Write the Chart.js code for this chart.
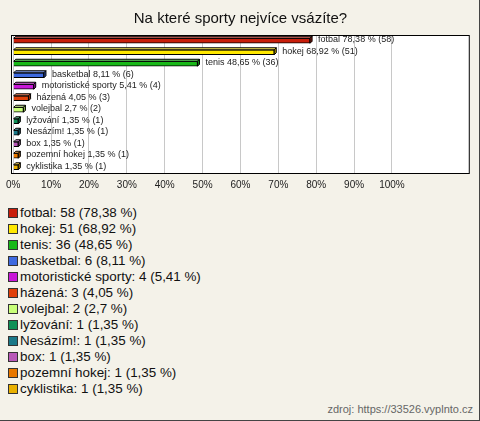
<!DOCTYPE html>
<html>
<head>
<meta charset="utf-8">
<script src="https://cdn.jsdelivr.net/npm/chart.js@4"></script>
<style>
    body { margin: 0; background: #fff; }
    #wrap { position: relative; width: 479px; height: 420px; background: #f4f2e9; border-right: 1px solid #444; border-bottom: 1px solid #444; font-family: "Liberation Sans", Arial, sans-serif; }
    #chartBox { position: absolute; left: 0; top: 0; width: 479px; height: 200px; }
    #legend { position: absolute; left: 8px; top: 205px; margin: 0; padding: 0; list-style: none; }
    #legend li { height: 16px; line-height: 16px; font-size: 13.4px; color: #111; white-space: nowrap; }
    #legend span { display: inline-block; width: 8px; height: 8px; border: 1px solid #333; margin-right: 2px; vertical-align: -1px; }
    #source { position: absolute; right: 6px; top: 403px; font-size: 11px; color: #666; }
</style>
</head>
<body>
<div id="wrap">
    <div id="chartBox"><canvas id="chart_sporty"></canvas></div>
    <ul id="legend"></ul>
    <div id="source">zdroj: https://33526.vyplnto.cz</div>
</div>
<script>
const title = 'Na které sporty nejvíce vsázíte?';
const sports = ['fotbal', 'hokej', 'tenis', 'basketbal', 'motoristické sporty', 'házená', 'volejbal', 'lyžování', 'Nesázím!', 'box', 'pozemní hokej', 'cyklistika'];
const counts = [58, 51, 36, 6, 4, 3, 2, 1, 1, 1, 1, 1];
const percents = [78.38, 68.92, 48.65, 8.11, 5.41, 4.05, 2.7, 1.35, 1.35, 1.35, 1.35, 1.35];
const colors = ['#c81e0a', '#ffe800', '#18b818', '#3e6ae0', '#c818d8', '#e0400a', '#c8ff78', '#0e9058', '#1a7888', '#b858b8', '#e87800', '#e8b000'];
const tickValues = [0, 10, 20, 30, 40, 50, 60, 70, 80, 90, 100];

const fmt = (v) => String(v).replace('.', ',');

// light / dark shade for the 3d faces
const shade = (hex, f) => {
    let r = parseInt(hex.substr(1, 2), 16), g = parseInt(hex.substr(3, 2), 16), b = parseInt(hex.substr(5, 2), 16);
    if (f > 0) {
        r = r + (255 - r) * f; g = g + (255 - g) * f; b = b + (255 - b) * f;
    } else {
        r = r * (1 + f); g = g * (1 + f); b = b * (1 + f);
    }
    return `rgb(${Math.round(r)},${Math.round(g)},${Math.round(b)})`;
}

const boxPlugin = {
    id: 'boxPlugin',
    beforeDraw: (chart) => {
        const a = chart.chartArea; const ctx = chart.ctx;
        ctx.save();
        ctx.fillStyle = '#fff';
        ctx.fillRect(a.left - 1.5, a.top, a.right - a.left + 1.5, a.bottom - a.top);
        ctx.restore();
    },
    afterDatasetsDraw: (chart) => {
        const ctx = chart.ctx; const a = chart.chartArea;
        const meta = chart.getDatasetMeta(0);
        const d = 2;
        ctx.save();
        ctx.lineWidth = 1;
        ctx.strokeStyle = '#000';
        meta.data.forEach((bar, i) => {
            const p = bar.getProps(['x', 'y', 'base', 'height'], true);
            const top = p.y - p.height / 2; const bottom = p.y + p.height / 2;
            ctx.fillStyle = shade(colors[i], 0.35);
            ctx.beginPath();
            ctx.moveTo(p.base, top); ctx.lineTo(p.base + d, top - d); ctx.lineTo(p.x + d, top - d); ctx.lineTo(p.x, top); ctx.closePath();
            ctx.fill(); ctx.stroke();
            ctx.fillStyle = shade(colors[i], -0.3);
            ctx.beginPath();
            ctx.moveTo(p.x, top); ctx.lineTo(p.x + d, top - d); ctx.lineTo(p.x + d, bottom - d); ctx.lineTo(p.x, bottom); ctx.closePath();
            ctx.fill(); ctx.stroke();

            ctx.fillStyle = '#222';
            ctx.font = '9px "Liberation Sans", Arial, sans-serif';
            ctx.textBaseline = 'middle';
            ctx.fillText(`${sports[i]} ${fmt(percents[i])} % (${counts[i]})`, p.x + d + 6, p.y - 1);
        });
        ctx.strokeRect(Math.round(a.left) - 1.5, Math.round(a.top) + 0.5, a.right - a.left + 1, a.bottom - a.top);
        ctx.restore();
    }
}

const ourChart = () => {
    const data = {
        labels: sports,
        datasets: [{
            data: percents,
            backgroundColor: colors,
            borderColor: '#000',
            borderWidth: 1,
            barThickness: 5
        }]
    };

    const config = {
        type: 'bar',
        data: data,
        options: {
            indexAxis: 'y',
            responsive: true,
            maintainAspectRatio: false,
            animation: false,
            layout: { padding: { left: 11, right: 9, top: 0, bottom: 3 } },
            scales: {
                x: {
                    min: 0,
                    max: 120.6,
                    afterBuildTicks: (scale) => {
                        scale.ticks = tickValues.map(v => ({ value: v }));
                    },
                    ticks: {
                        padding: 6,
                        color: '#222',
                        maxRotation: 0,
                        autoSkip: false,
                        font: { family: '"Liberation Sans", Arial, sans-serif', size: 10 },
                        callback: (v) => v + '%'
                    },
                    grid: { color: '#c8c8c8', drawTicks: false },
                    border: { display: false }
                },
                y: { display: false }
            },
            plugins: {
                legend: { display: false },
                tooltip: { enabled: false },
                title: {
                    display: true,
                    text: title,
                    color: '#111',
                    font: { family: '"Liberation Sans", Arial, sans-serif', size: 15, weight: 'normal' },
                    padding: { top: 10, bottom: 7 }
                }
            }
        },
        plugins: [boxPlugin]
    };

    new Chart(document.getElementById('chart_sporty'), config);
}

const legend = document.getElementById('legend');
for (let i = 0; i < sports.length; i++) {
    const li = document.createElement('li');
    const sq = document.createElement('span');
    sq.style.background = colors[i];
    li.appendChild(sq);
    li.appendChild(document.createTextNode(`${sports[i]}: ${counts[i]} (${fmt(percents[i])} %)`));
    legend.appendChild(li);
}

ourChart();
</script>
</body>
</html>
